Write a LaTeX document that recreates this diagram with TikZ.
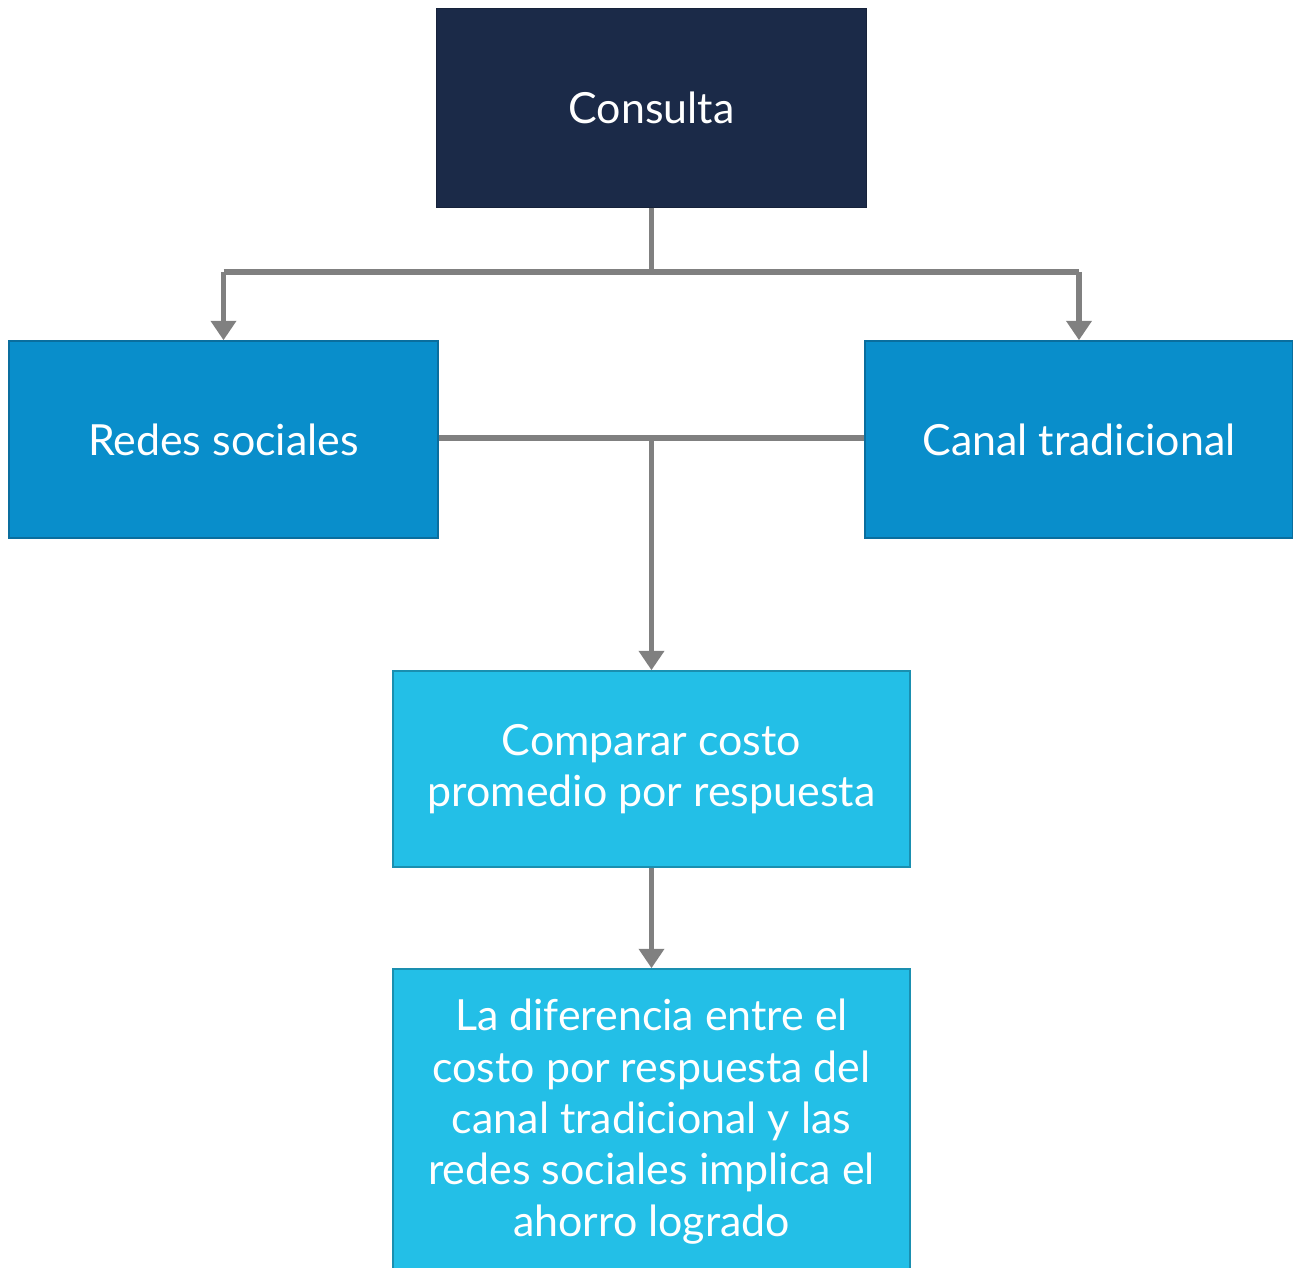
\documentclass[tikz,border=0pt]{standalone}
\usepackage{fontspec}
\setmainfont{Lato}
\usetikzlibrary{arrows.meta}
\definecolor{navy}{HTML}{1B2A48}
\definecolor{midblue}{HTML}{098ECB}
\definecolor{midborder}{HTML}{0A6E9E}
\definecolor{lightblue}{HTML}{23BFE7}
\definecolor{lightborder}{HTML}{1A8FB0}
\definecolor{conn}{HTML}{808080}
\tikzset{
  box/.style={rectangle, inner sep=0pt, text=white, align=center,
    font=\fontsize{12.2}{14.6}\selectfont},
  navybox/.style={box, fill=navy, draw=navy!80!black, line width=0.3pt},
  midbox/.style={box, fill=midblue, draw=midborder, line width=0.4pt},
  lightbox/.style={box, fill=lightblue, draw=lightborder, line width=0.4pt},
  link/.style={draw=conn, line width=1.45pt},
  arr/.style={link, -{Triangle[width=7pt,length=5.5pt]}}
}
\begin{document}
\begin{tikzpicture}[x=0.01cm,y=-0.01cm]
\useasboundingbox (0,0) rectangle (1293,1268);
\node[navybox, minimum width=4.29cm, minimum height=1.98cm] (cons) at (651.5,108) {Consulta};
\node[midbox, minimum width=4.29cm, minimum height=1.97cm] (redes) at (223.5,439.5) {Redes sociales};
\node[midbox, minimum width=4.28cm, minimum height=1.97cm] (canal) at (1079,439.5) {Canal tradicional};
\node[lightbox, minimum width=5.17cm, minimum height=1.96cm] (comp) at (651.5,769) {\raisebox{-3pt}{\parbox{5cm}{\centering Comparar costo\\promedio por respuesta}}};
\node[lightbox, minimum width=5.17cm, minimum height=3.05cm] (dif) at (651.5,1121.5) {La diferencia entre el\\costo por respuesta del\\canal tradicional y las\\redes sociales implica el\\ahorro logrado};
\coordinate (split) at (651.5,272);
\coordinate (sl) at (223.5,272);
\coordinate (sr) at (1079,272);
\coordinate (mid) at (651.5,438);
\draw[link] (cons.south) -- (split);
\draw[link] (sl) -- (sr);
\draw[arr] (sl) -- (redes.north);
\draw[arr] (sr) -- (canal.north);
\draw[link] (redes.east |- mid) -- (canal.west |- mid);
\draw[arr] (mid) -- (comp.north);
\draw[arr] (comp.south) -- (dif.north);
\end{tikzpicture}
\end{document}
